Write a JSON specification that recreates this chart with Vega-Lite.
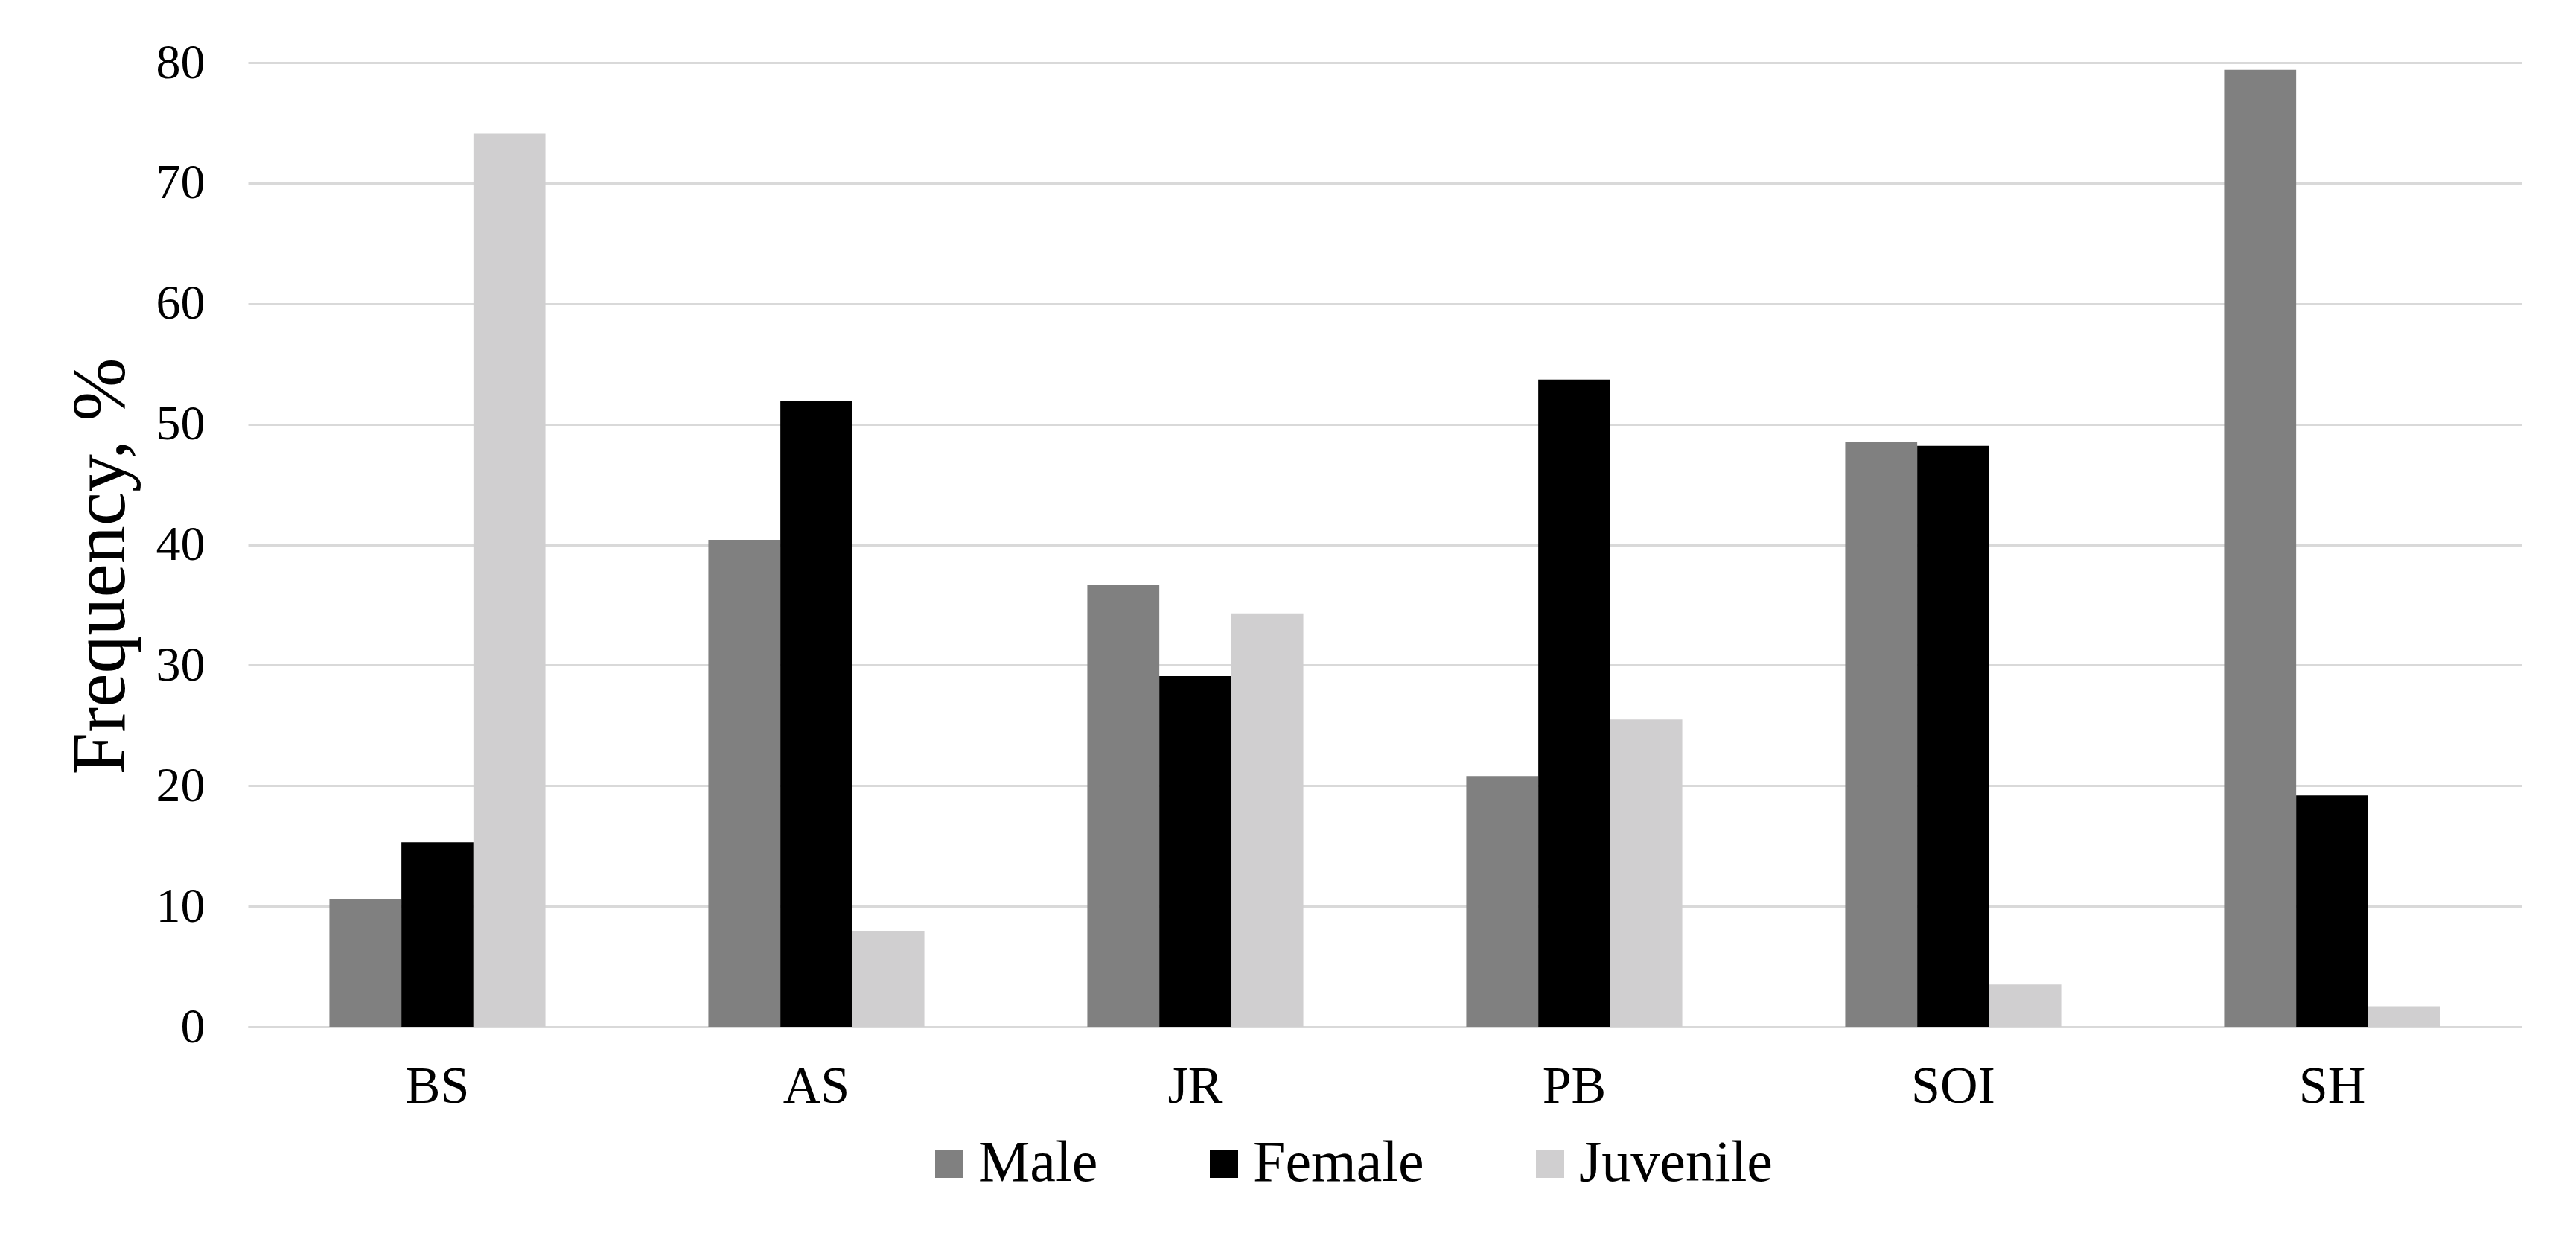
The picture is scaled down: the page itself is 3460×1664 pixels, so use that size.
{
  "$schema": "https://vega.github.io/schema/vega-lite/v6.json",
  "autosize": {"type": "none"},
  "padding": {"left": 333, "top": 84, "right": 73, "bottom": 285},
  "width": 3054,
  "height": 1295,
  "background": "white",
  "data": {
    "values": [
      {"site": "BS", "group": "Male", "freq": 10.6},
      {"site": "BS", "group": "Female", "freq": 15.3},
      {"site": "BS", "group": "Juvenile", "freq": 74.1},
      {"site": "AS", "group": "Male", "freq": 40.4},
      {"site": "AS", "group": "Female", "freq": 51.9},
      {"site": "AS", "group": "Juvenile", "freq": 7.95},
      {"site": "JR", "group": "Male", "freq": 36.7},
      {"site": "JR", "group": "Female", "freq": 29.1},
      {"site": "JR", "group": "Juvenile", "freq": 34.3},
      {"site": "PB", "group": "Male", "freq": 20.8},
      {"site": "PB", "group": "Female", "freq": 53.7},
      {"site": "PB", "group": "Juvenile", "freq": 25.5},
      {"site": "SOI", "group": "Male", "freq": 48.5},
      {"site": "SOI", "group": "Female", "freq": 48.2},
      {"site": "SOI", "group": "Juvenile", "freq": 3.5},
      {"site": "SH", "group": "Male", "freq": 79.4},
      {"site": "SH", "group": "Female", "freq": 19.2},
      {"site": "SH", "group": "Juvenile", "freq": 1.7}
    ]
  },
  "mark": {"type": "bar"},
  "encoding": {
    "x": {
      "field": "site",
      "type": "nominal",
      "sort": ["BS", "AS", "JR", "PB", "SOI", "SH"],
      "scale": {"paddingInner": 0.43, "paddingOuter": 0.215},
      "axis": {
        "title": null,
        "labelAngle": 0,
        "labelFont": "Liberation Serif",
        "labelFontSize": 70,
        "labelColor": "#000000",
        "labelPadding": 46,
        "ticks": false,
        "tickSize": 0,
        "domain": true,
        "domainColor": "#d9d9d9",
        "domainWidth": 3,
        "grid": false
      }
    },
    "xOffset": {
      "field": "group",
      "type": "nominal",
      "sort": ["Male", "Female", "Juvenile"],
      "scale": {"paddingInner": 0, "paddingOuter": 0}
    },
    "y": {
      "field": "freq",
      "type": "quantitative",
      "scale": {"domain": [0, 80], "nice": false},
      "axis": {
        "title": "Frequency, %",
        "titleFont": "Liberation Serif",
        "titleFontSize": 102,
        "titleFontWeight": "normal",
        "titleColor": "#000000",
        "titlePadding": 22,
        "titleY": 676,
        "values": [0, 10, 20, 30, 40, 50, 60, 70, 80],
        "labelFont": "Liberation Serif",
        "labelFontSize": 66,
        "labelColor": "#000000",
        "labelPadding": 58,
        "ticks": false,
        "tickSize": 0,
        "domain": false,
        "grid": true,
        "gridColor": "#d9d9d9",
        "gridWidth": 3
      }
    },
    "color": {
      "field": "group",
      "type": "nominal",
      "sort": ["Male", "Female", "Juvenile"],
      "scale": {"domain": ["Male", "Female", "Juvenile"], "range": ["#808080", "#000000", "#d0cfd0"]},
      "legend": {
        "title": null,
        "orient": "none",
        "direction": "horizontal",
        "legendX": 903,
        "legendY": 1440,
        "symbolType": "square",
        "symbolSize": 1444,
        "symbolStrokeWidth": 0,
        "labelFont": "Liberation Serif",
        "labelFontSize": 78,
        "labelColor": "#000000",
        "labelOffset": 0,
        "labelLimit": 1000,
        "columnPadding": 130,
        "padding": 0
      }
    }
  },
  "config": {
    "view": {"stroke": null}
  }
}
